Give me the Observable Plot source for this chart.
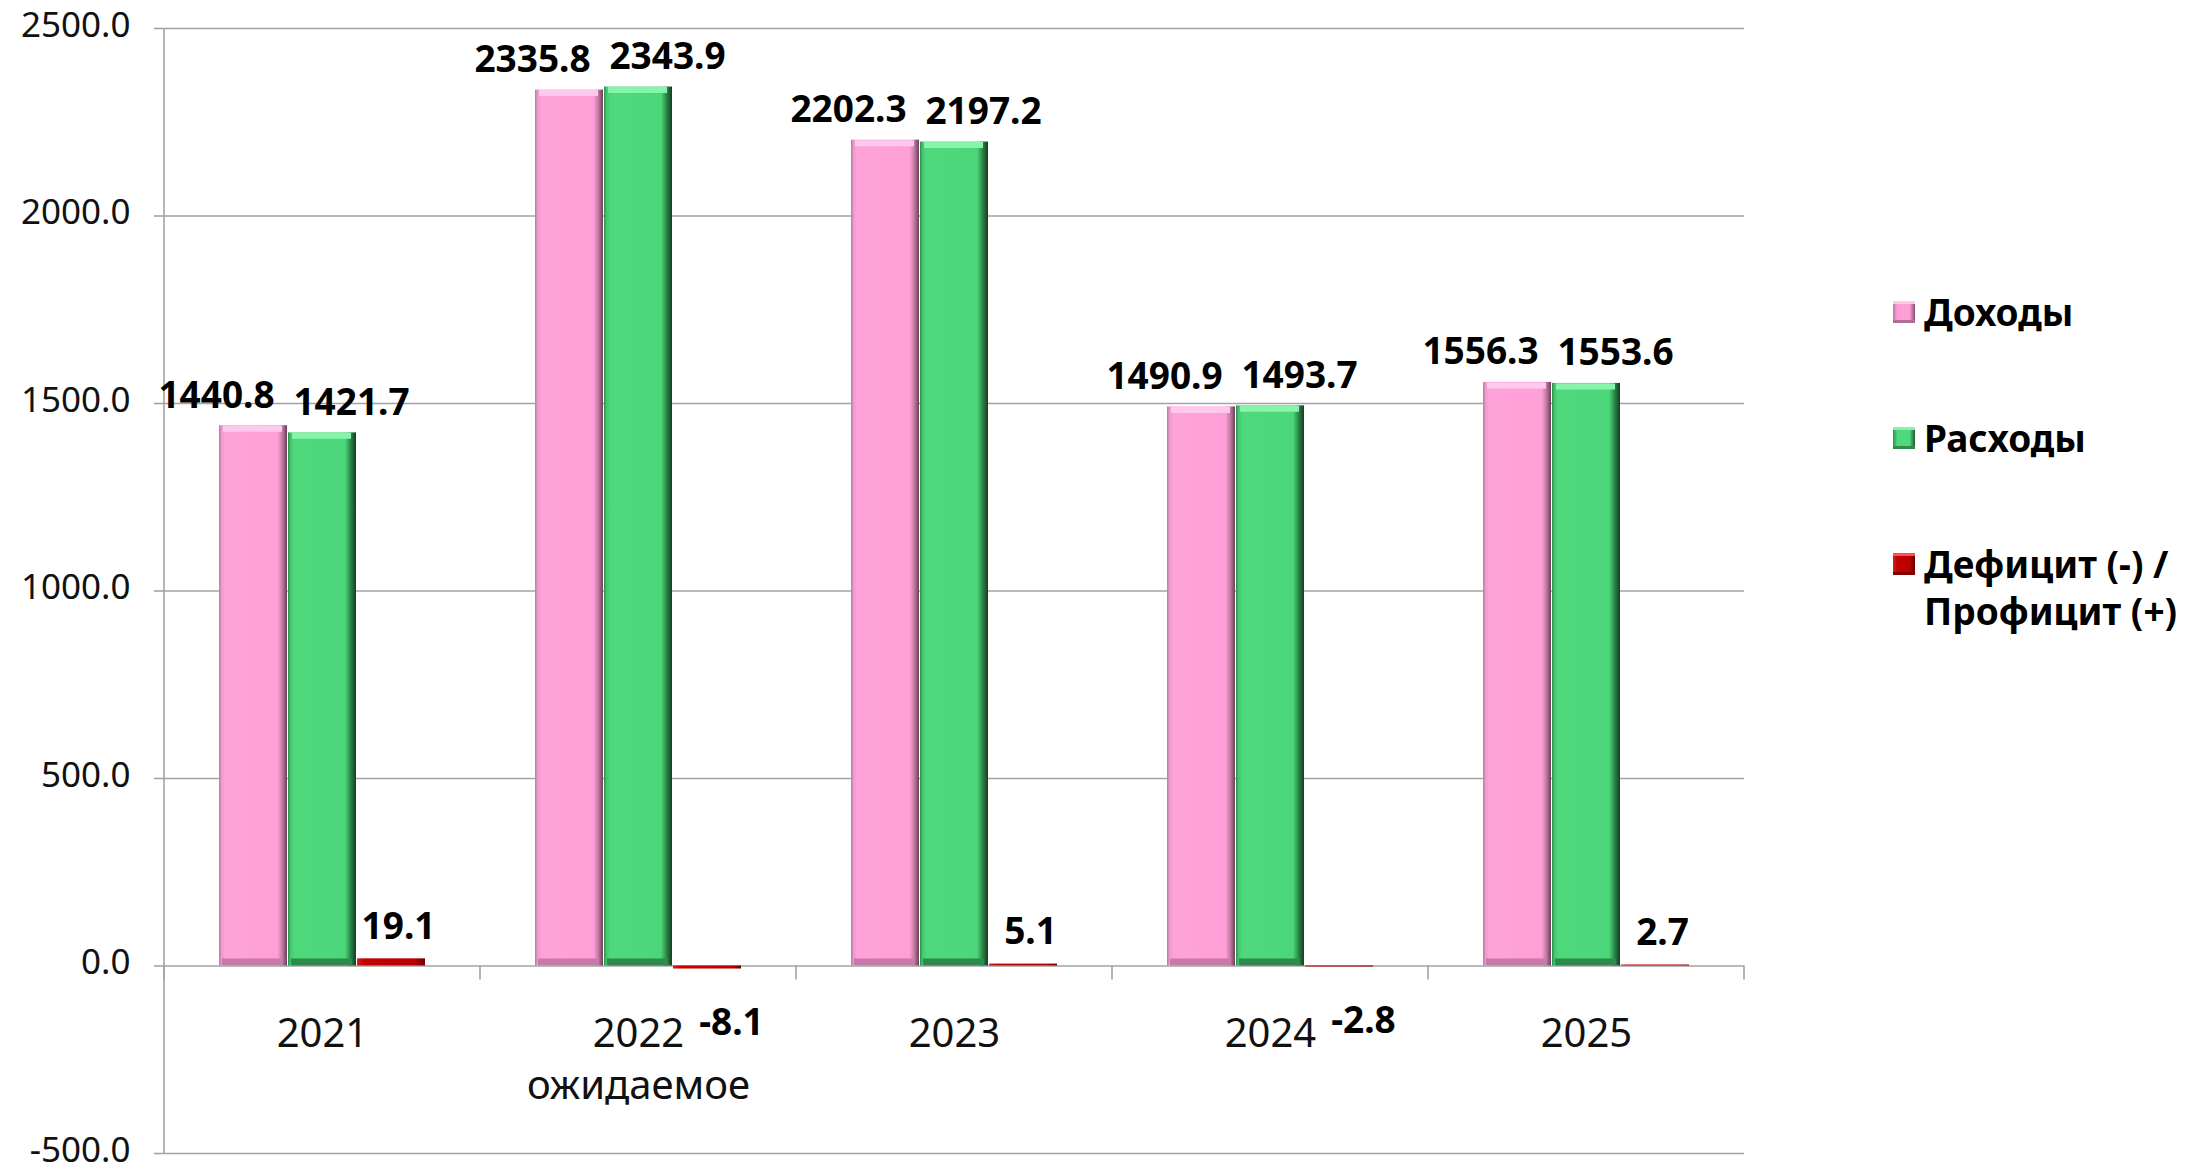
<!DOCTYPE html>
<html><head><meta charset="utf-8">
<script src="https://cdn.jsdelivr.net/npm/d3@7"></script>
<script src="https://cdn.jsdelivr.net/npm/@observablehq/plot@0.6"></script>
<style>
html,body{margin:0;padding:0;background:#fff;}
#wrap{position:relative;width:2189px;height:1170px;font-family:"Noto Sans",sans-serif;overflow:hidden;}
#chart{position:absolute;left:0;top:0;}
.lg{position:absolute;left:1893px;display:flex;align-items:flex-start;font-weight:bold;font-size:37px;line-height:47px;color:#000;white-space:nowrap;}
.sw{width:22px;height:22px;margin-top:13px;margin-right:9px;box-sizing:border-box;}
</style></head><body>
<div id="wrap"><div id="chart"></div><div id="legend"></div></div>
<script>
const years = ["2021", "2022", "2023", "2024", "2025"];
const yearLabels = ["2021", "2022\nожидаемое", "2023", "2024", "2025"];
const seriesNames = ["Доходы", "Расходы", "Дефицит (-) / Профицит (+)"];
const legendLabels = ["Доходы", "Расходы", "Дефицит (-) /\nПрофицит (+)"];
const income = [1440.8, 2335.8, 2202.3, 1490.9, 1556.3];
const expenses = [1421.7, 2343.9, 2197.2, 1493.7, 1553.6];
const balance = [19.1, -8.1, 5.1, -2.8, 2.7];
const yTicks = [-500, 0, 500, 1000, 1500, 2000, 2500];
const yDomain = [-500, 2500];

const gradIds = ["gPink", "gGreen", "gRed"];
const rows = [];
years.forEach((yr, i) => {
  rows.push({year: yr, series: seriesNames[0], value: income[i]});
  rows.push({year: yr, series: seriesNames[1], value: expenses[i]});
  rows.push({year: yr, series: seriesNames[2], value: balance[i]});
});
const pinkRows = rows.filter(d => d.series === seriesNames[0]);
const greenRows = rows.filter(d => d.series === seriesNames[1]);
const redRows = rows.filter(d => d.series === seriesNames[2]);
const fmt = d => d.value.toFixed(1);
const gridColor = "#a3a3a3";

const chart = Plot.plot({
  width: 1760,
  height: 1170,
  marginLeft: 163,
  marginRight: 15,
  marginTop: 28,
  marginBottom: 17,
  style: {fontFamily: "'Noto Sans', sans-serif", background: "transparent"},
  fx: {domain: years, padding: 0, axis: null, label: null},
  x: {domain: seriesNames, paddingInner: 0.02, paddingOuter: 0.78, axis: null, label: null},
  y: {domain: yDomain, axis: null, label: null},
  color: {domain: seriesNames, range: gradIds.map(id => `url(#${id})`)},
  marks: [
    Plot.gridY(yTicks, {stroke: gridColor, strokeOpacity: 1, strokeWidth: 1.6}),
    Plot.axisY(yTicks, {anchor: "left", label: null, tickSize: 10, stroke: gridColor, strokeWidth: 1.6, fill: "none"}),
    Plot.axisY(yTicks, {anchor: "left", label: null, tickSize: 0, tickPadding: 34, dy: -3,
      fill: "#111", fontSize: 35, tickFormat: d => d.toFixed(1)}),
    Plot.barY(rows, {fx: "year", x: "series", y: "value", fill: "series"}),
    Plot.tickY(pinkRows, {fx: "year", x: "series", y: "value", stroke: "#ffc9ec", strokeWidth: 6, dy: 3, insetLeft: 4, insetRight: 5}),
    Plot.tickY(greenRows, {fx: "year", x: "series", y: "value", stroke: "#86f5ab", strokeWidth: 6, dy: 3, insetLeft: 4, insetRight: 5}),
    Plot.tickY(pinkRows, {fx: "year", x: "series", y: () => 0, stroke: "#c57aa9", strokeWidth: 7, dy: -4, insetLeft: 3, insetRight: 4}),
    Plot.tickY(greenRows, {fx: "year", x: "series", y: () => 0, stroke: "#2f8a4d", strokeWidth: 7, dy: -4, insetLeft: 3, insetRight: 4}),
    Plot.text(pinkRows, {fx: "year", x: "series", y: "value", text: fmt, dx: -37, dy: -18, lineAnchor: "bottom",
      fontWeight: "bold", fontSize: 37, fill: "#000"}),
    Plot.text(greenRows, {fx: "year", x: "series", y: "value", text: fmt, dx: 29, dy: -18, lineAnchor: "bottom",
      fontWeight: "bold", fontSize: 37, fill: "#000"}),
    Plot.text(redRows.filter(d => d.value >= 0), {fx: "year", x: "series", y: "value", text: fmt, dx: 7, dy: -20, lineAnchor: "bottom",
      fontWeight: "bold", fontSize: 37, fill: "#000"}),
    Plot.text(redRows.filter(d => d.value < 0), {fx: "year", x: "series", y: "value", text: fmt, dx: 24, dy: 40, lineAnchor: "top",
      fontWeight: "bold", fontSize: 37, fill: "#000"}),
    Plot.text(years, {fx: d => d, y: () => 0, text: (d, i) => yearLabels[i], dy: 44, lineAnchor: "top",
      fontSize: 40, lineHeight: 1.3, fill: "#111"})
  ]
});

// gradients for the bevelled bars
const ns = "http://www.w3.org/2000/svg";
const defs = document.createElementNS(ns, "defs");
const grads = {
  gPink: [[0, "#b8789f"], [0.04, "#ee9cce"], [0.1, "#ffa2da"], [0.86, "#ff9fd8"], [0.93, "#c47aa4"], [1, "#6a3d57"]],
  gGreen: [[0, "#2f8c4e"], [0.04, "#45c970"], [0.1, "#4fd97c"], [0.84, "#4bd67a"], [0.92, "#2c8548"], [1, "#153d22"]],
  gRed: [[0, "#d42020"], [0.1, "#c40000"], [0.85, "#b80000"], [1, "#6a0000"]]
};
for (const [id, stops] of Object.entries(grads)) {
  const lg = document.createElementNS(ns, "linearGradient");
  lg.setAttribute("id", id);
  lg.setAttribute("x1", "0"); lg.setAttribute("x2", "1"); lg.setAttribute("y1", "0"); lg.setAttribute("y2", "0");
  for (const [o, c] of stops) {
    const s = document.createElementNS(ns, "stop");
    s.setAttribute("offset", o); s.setAttribute("stop-color", c);
    lg.appendChild(s);
  }
  defs.appendChild(lg);
}
chart.insertBefore(defs, chart.firstChild);

// axis line and category separators, from Plot's own scales
const fxS = chart.scale("fx"), yS = chart.scale("y");
const g = document.createElementNS(ns, "g");
g.setAttribute("stroke", gridColor);
g.setAttribute("stroke-width", "1.6");
function addLine(x1, y1, x2, y2) {
  const l = document.createElementNS(ns, "line");
  l.setAttribute("x1", x1); l.setAttribute("y1", y1); l.setAttribute("x2", x2); l.setAttribute("y2", y2);
  g.appendChild(l);
}
const left0 = fxS.apply(years[0]);
addLine(left0, yS.apply(yDomain[1]), left0, yS.apply(yDomain[0]));
const y0 = yS.apply(0);
years.forEach(yr => addLine(fxS.apply(yr), y0, fxS.apply(yr), y0 + 14));
const lastRight = fxS.apply(years[years.length - 1]) + fxS.bandwidth;
addLine(lastRight, y0, lastRight, y0 + 14);
chart.insertBefore(g, chart.children[2] || null);

document.getElementById("chart").appendChild(chart);

// legend
const legendTops = [288, 414, 540];
const swatchCss = [
  "background:linear-gradient(90deg,#b8789f 0%,#ff9fd8 20%,#ff9fd8 75%,#8a5070 100%);box-shadow:inset 0 3px 0 #ffc9ec, inset 0 -3px 0 #b06d95;",
  "background:linear-gradient(90deg,#2f8c4e 0%,#4fd97c 20%,#4fd97c 75%,#1f5c33 100%);box-shadow:inset 0 3px 0 #86f5ab, inset 0 -3px 0 #2f8a4d;",
  "background:linear-gradient(90deg,#d42020 0%,#c40000 20%,#b80000 75%,#6a0000 100%);box-shadow:inset 0 3px 0 #ff5050, inset 0 -3px 0 #800000;"
];
const legend = document.getElementById("legend");
legendLabels.forEach((lab, i) => {
  const row = document.createElement("div");
  row.className = "lg";
  row.style.top = legendTops[i] + "px";
  const sw = document.createElement("div");
  sw.className = "sw";
  sw.style.cssText = swatchCss[i];
  const t = document.createElement("div");
  t.innerHTML = lab.split("\n").join("<br>");
  row.appendChild(sw); row.appendChild(t);
  legend.appendChild(row);
});
</script>
</body></html>
